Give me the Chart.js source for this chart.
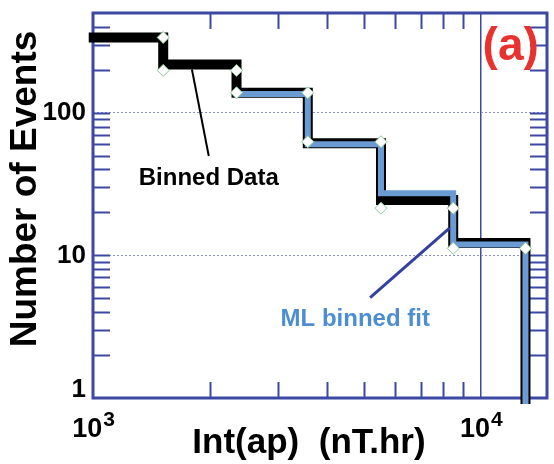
<!DOCTYPE html>
<html>
<head>
<meta charset="utf-8">
<script src="https://cdn.jsdelivr.net/npm/chart.js@4.4.0/dist/chart.umd.min.js"></script>
<style>
  html, body { margin: 0; padding: 0; background: #fff; }
</style>
</head>
<body>
<canvas id="chart" width="554" height="464"></canvas>
<script>
// bin edges in Int(ap) (nT.hr), step heights in number of events
const binEdges = [975, 1517, 2344, 3578, 5525, 8483, 13025];
const binnedCounts = [337, 218, 138, 61, 24.4, 12.2, 0.9];
// the fit line only shows from the third bin on
const fitEdges = [2360, 3578, 5525, 8483, 13025];
const fitCounts = [135, 60, 27.3, 11.9, 0.9];

// diamond markers at the bin corners
const markerX = [1517, 1517, 2344, 2344, 3578, 3578, 5525, 5525, 8483, 8483, 13025];
const markerY = [337, 198, 198, 138, 138, 62.6, 62.6, 21.4, 21.4, 11.2, 11.2];

const xMajorTicks = [1000, 10000];
const xExponents = ['3', '4'];
const xMinorTicks = [2000, 3000, 4000, 5000, 6000, 7000, 8000, 9000];
const yMajorTicks = [1, 10, 100];
const yMinorTicks = [2, 3, 4, 5, 6, 7, 8, 9, 20, 30, 40, 50, 60, 70, 80, 90, 200, 300, 400];

// annotation anchors (data coordinates)
const dataLabelAt = { x: 1988, y: 34.9 };
const dataLeader = [{ x: 1799, y: 201 }, { x: 1988, y: 49.7 }];
const fitLabelAt = { x: 4743, y: 3.54 };
const fitLeader = [{ x: 8298, y: 15.5 }, { x: 5180, y: 5.06 }];
const panelLabelAt = { x: 11930, y: 287 };

const frameColor = '#3c48a4';
const fontFamily = "'Liberation Sans', Arial, sans-serif";

const toPoints = (xs, ys) => xs.map((x, i) => ({ x: x, y: ys[i] }));

const frameAndTicks = {
    id: 'frameAndTicks',
    beforeDatasetsDraw(chart) {
        const { ctx, chartArea: a, scales: { x, y } } = chart;
        ctx.save();
        ctx.strokeStyle = frameColor;
        ctx.lineWidth = 2;
        ctx.beginPath();
        yMinorTicks.concat(yMajorTicks.slice(1)).forEach(v => {
            const py = Math.round(y.getPixelForValue(v)) + 0.5;
            ctx.moveTo(a.left, py); ctx.lineTo(a.left + 17, py);
            ctx.moveTo(a.right, py); ctx.lineTo(a.right - 17, py);
        });
        xMinorTicks.forEach(v => {
            const px = Math.round(x.getPixelForValue(v)) + 0.5;
            ctx.moveTo(px, a.bottom); ctx.lineTo(px, a.bottom - 16);
            ctx.moveTo(px, a.top); ctx.lineTo(px, a.top + 16);
        });
        ctx.stroke();
        ctx.lineWidth = 3;
        ctx.strokeRect(a.left, a.top, a.right - a.left, a.bottom - a.top);
        ctx.restore();
    }
};

const labelsAndNotes = {
    id: 'labelsAndNotes',
    afterDraw(chart) {
        const { ctx, chartArea: a, scales: { x, y } } = chart;
        const px = p => ({ x: x.getPixelForValue(p.x), y: y.getPixelForValue(p.y) });
        ctx.save();
        ctx.fillStyle = '#000';

        // y tick labels
        ctx.font = 'bold 26px ' + fontFamily;
        ctx.textAlign = 'right';
        ctx.textBaseline = 'middle';
        yMajorTicks.forEach(v => {
            const py = Math.min(y.getPixelForValue(v), a.bottom - 8);
            ctx.fillText(String(v), a.left - 7, py);
        });

        // x tick labels, 10 with raised exponent
        ctx.textAlign = 'left';
        ctx.textBaseline = 'alphabetic';
        xMajorTicks.forEach((v, i) => {
            const cx = x.getPixelForValue(v);
            ctx.font = 'bold 27px ' + fontFamily;
            const w1 = ctx.measureText('10').width;
            ctx.font = 'bold 21px ' + fontFamily;
            const w2 = ctx.measureText(xExponents[i]).width;
            const start = cx - (w1 + w2) / 2;
            ctx.font = 'bold 27px ' + fontFamily;
            ctx.fillText('10', start, a.bottom + 39);
            ctx.font = 'bold 21px ' + fontFamily;
            ctx.fillText(xExponents[i], start + w1 + 1, a.bottom + 28);
        });

        // axis titles
        ctx.font = 'bold 35px ' + fontFamily;
        ctx.textAlign = 'center';
        ctx.fillText('Int(ap)  (nT.hr)', 309, 453);
        ctx.save();
        ctx.translate(36, 189);
        ctx.rotate(-Math.PI / 2);
        ctx.font = 'bold 37px ' + fontFamily;
        ctx.fillText('Number of Events', 0, 0);
        ctx.restore();

        // leader lines
        ctx.lineCap = 'butt';
        let p0 = px(dataLeader[0]), p1 = px(dataLeader[1]);
        ctx.strokeStyle = '#000';
        ctx.lineWidth = 2;
        ctx.beginPath(); ctx.moveTo(p0.x, p0.y); ctx.lineTo(p1.x, p1.y); ctx.stroke();
        p0 = px(fitLeader[0]); p1 = px(fitLeader[1]);
        ctx.strokeStyle = '#3340a0';
        ctx.lineWidth = 3;
        ctx.beginPath(); ctx.moveTo(p0.x, p0.y); ctx.lineTo(p1.x, p1.y); ctx.stroke();

        // notes
        ctx.textBaseline = 'middle';
        ctx.font = 'bold 24px ' + fontFamily;
        let t = px(dataLabelAt);
        ctx.fillStyle = '#000';
        ctx.fillText('Binned Data', t.x, t.y);
        t = px(fitLabelAt);
        ctx.fillStyle = '#4d8dd2';
        ctx.fillText('ML binned fit', t.x, t.y);
        t = px(panelLabelAt);
        ctx.fillStyle = '#e8322f';
        ctx.font = 'bold 46px ' + fontFamily;
        ctx.fillText('(a)', t.x, t.y);
        ctx.restore();
    }
};

const ctx = document.getElementById('chart').getContext('2d');
new Chart(ctx, {
    type: 'scatter',
    data: {
        datasets: [{
            label: 'Binned Data',
            data: toPoints(binEdges, binnedCounts),
            showLine: true,
            stepped: 'before',
            borderColor: '#000',
            borderWidth: 10,
            borderJoinStyle: 'miter',
            pointRadius: 0,
            clip: { left: 6, top: 0, right: 0, bottom: 6 },
            order: 3
        }, {
            label: 'ML binned fit',
            data: toPoints(fitEdges, fitCounts),
            showLine: true,
            stepped: 'before',
            borderColor: '#6a9bd3',
            borderWidth: 6,
            borderJoinStyle: 'miter',
            pointRadius: 0,
            clip: { left: 6, top: 0, right: 0, bottom: 6 },
            order: 2
        }, {
            label: 'markers',
            data: toPoints(markerX, markerY),
            showLine: false,
            pointStyle: 'rectRot',
            pointRadius: 6,
            pointBackgroundColor: '#fff',
            pointBorderColor: '#8cc79a',
            pointBorderWidth: 1,
            order: 1
        }]
    },
    options: {
        responsive: false,
        animation: false,
        devicePixelRatio: 1,
        layout: { padding: { top: 13, right: 2, left: 0, bottom: 0 } },
        plugins: { legend: { display: false }, tooltip: { enabled: false } },
        scales: {
            x: {
                type: 'logarithmic',
                min: 1000,
                max: 14800,
                afterBuildTicks: s => { s.ticks = xMajorTicks.map(v => ({ value: v })); },
                afterFit: s => { s.height = 66; },
                ticks: { display: false },
                grid: {
                    color: c => (c.tick && c.tick.value === 10000) ? frameColor : 'rgba(0,0,0,0)',
                    lineWidth: 1.5,
                    drawTicks: false
                },
                border: { display: false }
            },
            y: {
                type: 'logarithmic',
                min: 1,
                max: 500,
                afterBuildTicks: s => { s.ticks = yMajorTicks.map(v => ({ value: v })); },
                afterFit: s => { s.width = 93; },
                ticks: { display: false },
                grid: {
                    color: c => (c.tick && c.tick.value !== 1) ? '#8b90cc' : 'rgba(0,0,0,0)',
                    lineWidth: 1,
                    drawTicks: false
                },
                border: { display: false, dash: [2, 2] }
            }
        }
    },
    plugins: [frameAndTicks, labelsAndNotes]
});
</script>
</body>
</html>
